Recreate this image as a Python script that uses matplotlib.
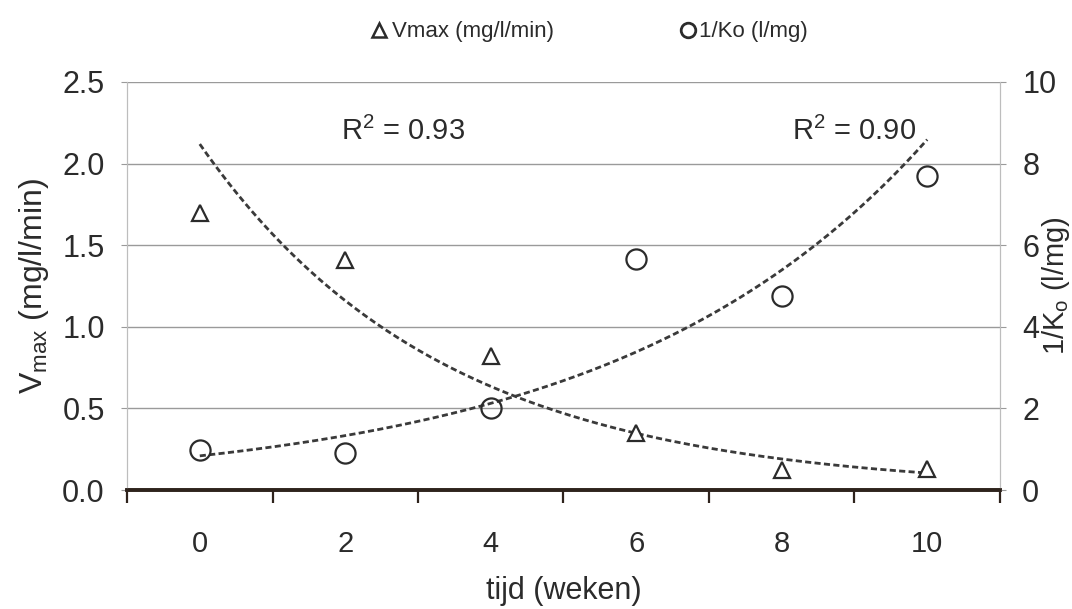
import numpy as np
import matplotlib
matplotlib.use("Agg")
import matplotlib.pyplot as plt
from matplotlib.lines import Line2D

plt.rcParams['font.family'] = ['Liberation Sans', 'DejaVu Sans']
plt.rcParams['mathtext.fontset'] = 'custom'
plt.rcParams['mathtext.rm'] = 'Liberation Sans'
plt.rcParams['mathtext.it'] = 'Liberation Sans'

weeks = [0, 2, 4, 6, 8, 10]
vmax = [1.70, 1.41, 0.82, 0.35, 0.12, 0.13]
inv_ko = [0.98, 0.91, 2.01, 5.66, 4.75, 7.70]
left_ticks = [0.0, 0.5, 1.0, 1.5, 2.0, 2.5]
right_ticks = [0, 2, 4, 6, 8, 10]
r2_vmax = "R$^2$ = 0.93"
r2_ko = "R$^2$ = 0.90"

TXT = '#2b2b2b'
GRID = '#9a9a9a'

fig = plt.figure(figsize=(10.72, 6.09), dpi=100)
ax = fig.add_axes([0.1185, 0.1954, 0.8143, 0.67])
ax2 = ax.twinx()

ax.set_xlim(-1, 11)
ax.set_ylim(0, 2.5)
ax2.set_ylim(0, 10)

# grid
for y in left_ticks[1:]:
    ax.axhline(y, color=GRID, lw=1.0, zorder=0)

# exponential trendlines fitted from data
x = np.array(weeks, dtype=float)
bv, av = np.polyfit(x, np.log(vmax), 1)
bk, ak = np.polyfit(x, np.log(inv_ko), 1)
xs = np.linspace(0, 10, 200)
ax.plot(xs, np.exp(av) * np.exp(bv * xs), color='#3a3a3a', lw=2.0,
        ls=(0, (2.2, 1.2)), zorder=3)
ax2.plot(xs, np.exp(ak) * np.exp(bk * xs), color='#3a3a3a', lw=2.0,
         ls=(0, (2.2, 1.2)), zorder=3)

ax.plot(weeks, vmax, ls='none', marker='^', ms=11, mfc='white',
        mec='#2b2b2b', mew=1.6, zorder=4)
ax2.plot(weeks, inv_ko, ls='none', marker='o', ms=14.5, mfc='none',
         mec='#2b2b2b', mew=1.6, zorder=4)

# spines
for a in (ax, ax2):
    a.spines['top'].set_visible(False)
    a.spines['left'].set_color('#bdbdbd')
    a.spines['right'].set_color('#bdbdbd')
    a.spines['left'].set_linewidth(0.8)
    a.spines['right'].set_linewidth(0.8)
    a.spines['bottom'].set_color('#2e231c')
    a.spines['bottom'].set_linewidth(2.6)
ax.spines['bottom'].set_zorder(5)

# x ticks: tick marks at odd positions, labels at even
ax.set_xticks([-1, 1, 3, 5, 7, 9, 11])
ax.set_xticklabels([])
ax.tick_params(axis='x', which='major', direction='out', length=9,
               width=1.6, color='#2e231c')
ax.set_xticks(weeks, minor=True)
ax.set_xticklabels([str(w) for w in weeks], minor=True)
ax.tick_params(axis='x', which='minor', length=0, pad=29, labelsize=21,
               labelcolor=TXT)

ax.set_yticks(left_ticks)
ax.set_yticklabels([f"{v:.1f}" for v in left_ticks])
ax.tick_params(axis='y', direction='out', length=4, color=GRID, pad=12,
               labelsize=22, labelcolor=TXT)
ax2.set_yticks(right_ticks)
ax2.set_yticklabels([str(v) for v in right_ticks])
ax2.tick_params(axis='y', direction='out', length=4, color=GRID, pad=12,
                labelsize=22, labelcolor=TXT)

ax.set_xlabel("tijd (weken)", fontsize=22, color=TXT, labelpad=13)
ax.set_ylabel(r"V$_{\mathrm{max}}$ (mg/l/min)", fontsize=23, color=TXT,
              labelpad=8)
ax2.set_ylabel(r"1/K$_{\mathrm{o}}$ (l/mg)", fontsize=21, color=TXT,
               labelpad=-12)

ax.text(2.8, 2.2, r2_vmax, fontsize=21, color=TXT, ha='center', va='center')
ax.text(9.0, 2.2, r2_ko, fontsize=21, color=TXT, ha='center', va='center')

# legend at top
fig.add_artist(Line2D([0.3535], [0.950], marker='^', ms=10, mfc='white',
                      mec=TXT, mew=1.8, ls='none',
                      transform=fig.transFigure))
fig.text(0.366, 0.948, "Vmax (mg/l/min)", fontsize=16, color=TXT, va='center')
fig.add_artist(Line2D([0.6415], [0.950], marker='o', ms=10.5, mfc='none',
                      mec=TXT, mew=2.0, ls='none',
                      transform=fig.transFigure))
fig.text(0.652, 0.948, "1/Ko (l/mg)", fontsize=16, color=TXT, va='center')

fig.savefig("out.png", dpi=100, facecolor='white')
